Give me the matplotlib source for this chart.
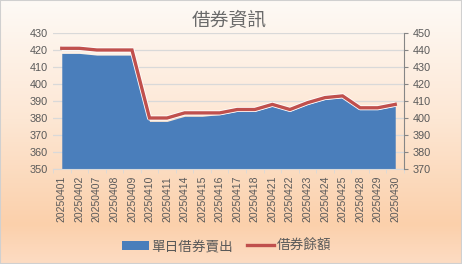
import numpy as np
import matplotlib
matplotlib.use("Agg")
import matplotlib.pyplot as plt
from matplotlib.colors import LinearSegmentedColormap
from matplotlib.patches import Rectangle

plt.rcParams['font.family'] = ['Liberation Sans', 'Noto Sans CJK TC', 'DejaVu Sans']

# 資料
dates = ['20250401', '20250402', '20250407', '20250408', '20250409',
         '20250410', '20250411', '20250414', '20250415', '20250416',
         '20250417', '20250418', '20250421', '20250422', '20250423',
         '20250424', '20250425', '20250428', '20250429', '20250430']
daily_sell = [418, 418, 417, 417, 417, 378, 378, 381, 381, 382,
              384, 384, 387, 384, 388, 391, 392, 385, 385, 387]
balance = [441, 441, 440, 440, 440, 400, 400, 403, 403, 403,
           405, 405, 408, 405, 409, 412, 413, 406, 406, 408]

W, H = 462, 264
fig = plt.figure(figsize=(W / 100, H / 100), dpi=100)

# 背景漸層
bg = fig.add_axes([0, 0, 1, 1], zorder=-10)
cmap = LinearSegmentedColormap.from_list(
    'bg', [(0, '#fefaf6'), (0.45, '#fde7d4'), (0.85, '#fbd0ab'), (1, '#fddcc3')])
grad = np.linspace(0, 1, 256).reshape(-1, 1)
bg.imshow(grad, aspect='auto', cmap=cmap, extent=[0, 1, 1, 0])
bg.set_xlim(0, 1)
bg.set_ylim(1, 0)
bg.axis('off')
fig.patches.append(Rectangle((0, 0), 1, 1, transform=fig.transFigure, fill=False,
                             edgecolor='#d0d0d0', linewidth=1.5))

x = np.arange(len(dates))
ax = fig.add_axes([53 / W, 1 - 169 / H, (404 - 53) / W, (169 - 33) / H])
ax.set_facecolor('none')
ax.fill_between(x, 350, daily_sell, color='#4a7ebb', linewidth=0, zorder=2,
                label='單日借券賣出')
ax.set_xlim(-0.5, len(dates) - 0.5)
ax.set_ylim(350, 430)
ax.set_yticks(np.arange(350, 431, 10))
ax.grid(axis='y', color='#d9d9d9', linewidth=0.9, zorder=0)
ax.set_axisbelow(True)
for s in ['left', 'right', 'top']:
    ax.spines[s].set_visible(False)
ax.spines['bottom'].set_color('#d9d9d9')
ax.tick_params(axis='y', length=0, labelsize=7.8, labelcolor='#595959', pad=4)
ax.set_xticks(x)
ax.set_xticklabels(dates, rotation=90, fontsize=7.5, color='#595959')
ax.set_xticks(np.arange(-0.5, len(dates), 1), minor=True)
ax.tick_params(axis='x', which='major', length=0, pad=5)
ax.tick_params(axis='x', which='minor', length=3, color='#d9d9d9')

ax2 = ax.twinx()
ax2.plot(x, balance, color='white', linewidth=3.6, solid_capstyle='butt', zorder=3)
ax2.plot(x, balance, color='#c0504d', linewidth=2.4, solid_joinstyle='miter',
         zorder=4, label='借券餘額')
ax2.set_ylim(370, 450)
ax2.set_yticks(np.arange(370, 451, 10))
for s in ['left', 'top', 'bottom']:
    ax2.spines[s].set_visible(False)
ax2.spines['right'].set_color('#868686')
ax2.tick_params(axis='y', length=3, color='#868686', labelsize=7.8,
                labelcolor='#595959', pad=3)

fig.text(0.497, 1 - 21 / H, '借券資訊', ha='center', va='center', fontsize=13.5,
         color='#6a6a6a', family=['Noto Sans CJK TC'], fontweight='light')

h1, l1 = ax.get_legend_handles_labels()
h2, l2 = ax2.get_legend_handles_labels()
fig.legend(h1 + h2, l1 + l2, loc='center', bbox_to_anchor=(0.49, 1 - 246 / H),
           ncol=2, frameon=False, prop={'family': 'Noto Sans CJK TC', 'size': 9.8},
           labelcolor='#595959', handlelength=2.0, handleheight=0.6,
           handletextpad=0.2, columnspacing=1.0)

fig.savefig('out.png', dpi=100)
